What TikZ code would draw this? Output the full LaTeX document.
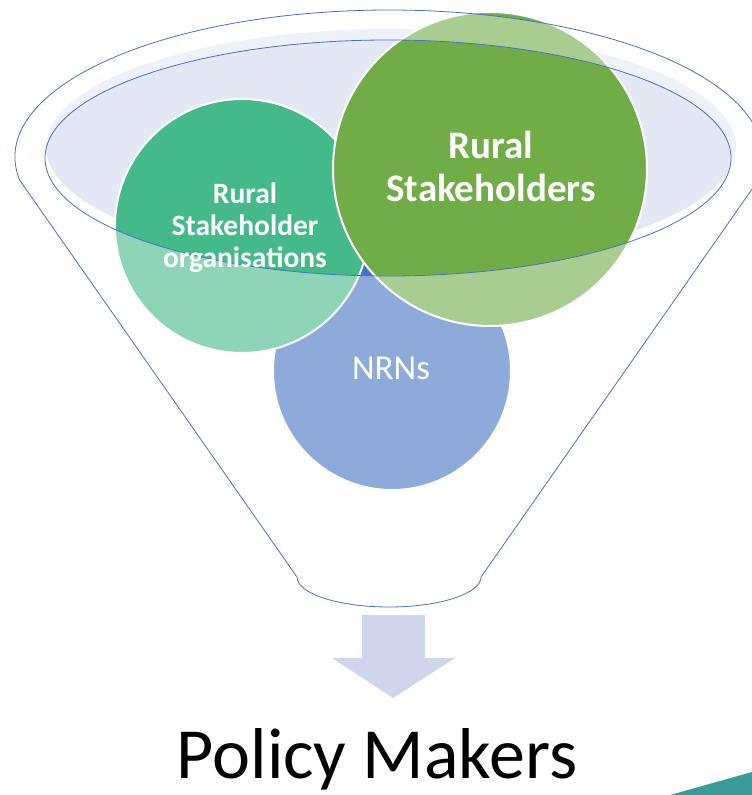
\documentclass[tikz,border=0pt]{standalone}
\usepackage{fontspec}
\setmainfont{Carlito}
\definecolor{lineblue}{HTML}{4472C4}
\definecolor{paleblue}{HTML}{E4E8F4}
\definecolor{rsogreen}{HTML}{44BA8A}
\definecolor{rsgreen}{HTML}{70AD47}
\definecolor{nrnblue}{HTML}{4472C4}
\definecolor{arrowfill}{HTML}{CFD5EA}
\definecolor{cornerteal}{HTML}{3A9C98}
\tikzset{
  funnel/.style={insert path={(19.6,180) arc[start angle=171,end angle=369,x radius=374,y radius=147]
      -- (481,577) arc[start angle=0,end angle=180,x radius=92,y radius=30] -- cycle}},
  bubble/.style={circle, draw=white, line width=2pt}
}
\begin{document}
\begin{tikzpicture}[x=1pt,y=-1pt]
\tikzstyle{every node}+=[inner sep=0pt]
\useasboundingbox (0,0) rectangle (752,795);
% top of the funnel
\fill [paleblue] (391,147) ellipse [x radius=345, y radius=118];
% circles
\node [bubble, fill=nrnblue, minimum size=238pt] (nrn) at (392,371) {};
\node [bubble, fill=rsogreen, minimum size=254pt] (rso) at (242,226) {};
\node [bubble, fill=rsgreen, minimum size=314pt] (rs) at (490,169) {};
% funnel wall in front
\fill [white, opacity=0.4, even odd rule, funnel] (388,158) ellipse [x radius=343, y radius=118];
\draw [lineblue, line width=0.8pt] (388,158) ellipse [x radius=343, y radius=118];
\draw [lineblue, line width=0.8pt, funnel];
% labels
\node [text=white, align=center, font=\fontsize{29.5}{32}\selectfont\bfseries] (rsolabel) at (245,228) {Rural\\Stakeholder\\organisations};
\node [text=white, align=center, font=\fontsize{39}{43}\selectfont\bfseries] (rslabel) at (491,166) {Rural\\Stakeholders};
\node [text=white, anchor=base, font=\fontsize{35}{40}\selectfont] (nrnlabel) at (391,379) {NRNs};
% arrow and policy makers
\fill [arrowfill] (362,615) -- (425,615) -- (425,658) -- (455,658) -- (393,698) -- (332,658) -- (362,658) -- cycle;
\node [anchor=base, font=\fontsize{72}{86}\selectfont] (policy) at (377,778) {Policy Makers};
\fill [cornerteal] (670,795) -- (752,772) -- (752,795) -- cycle;
\end{tikzpicture}
\end{document}
